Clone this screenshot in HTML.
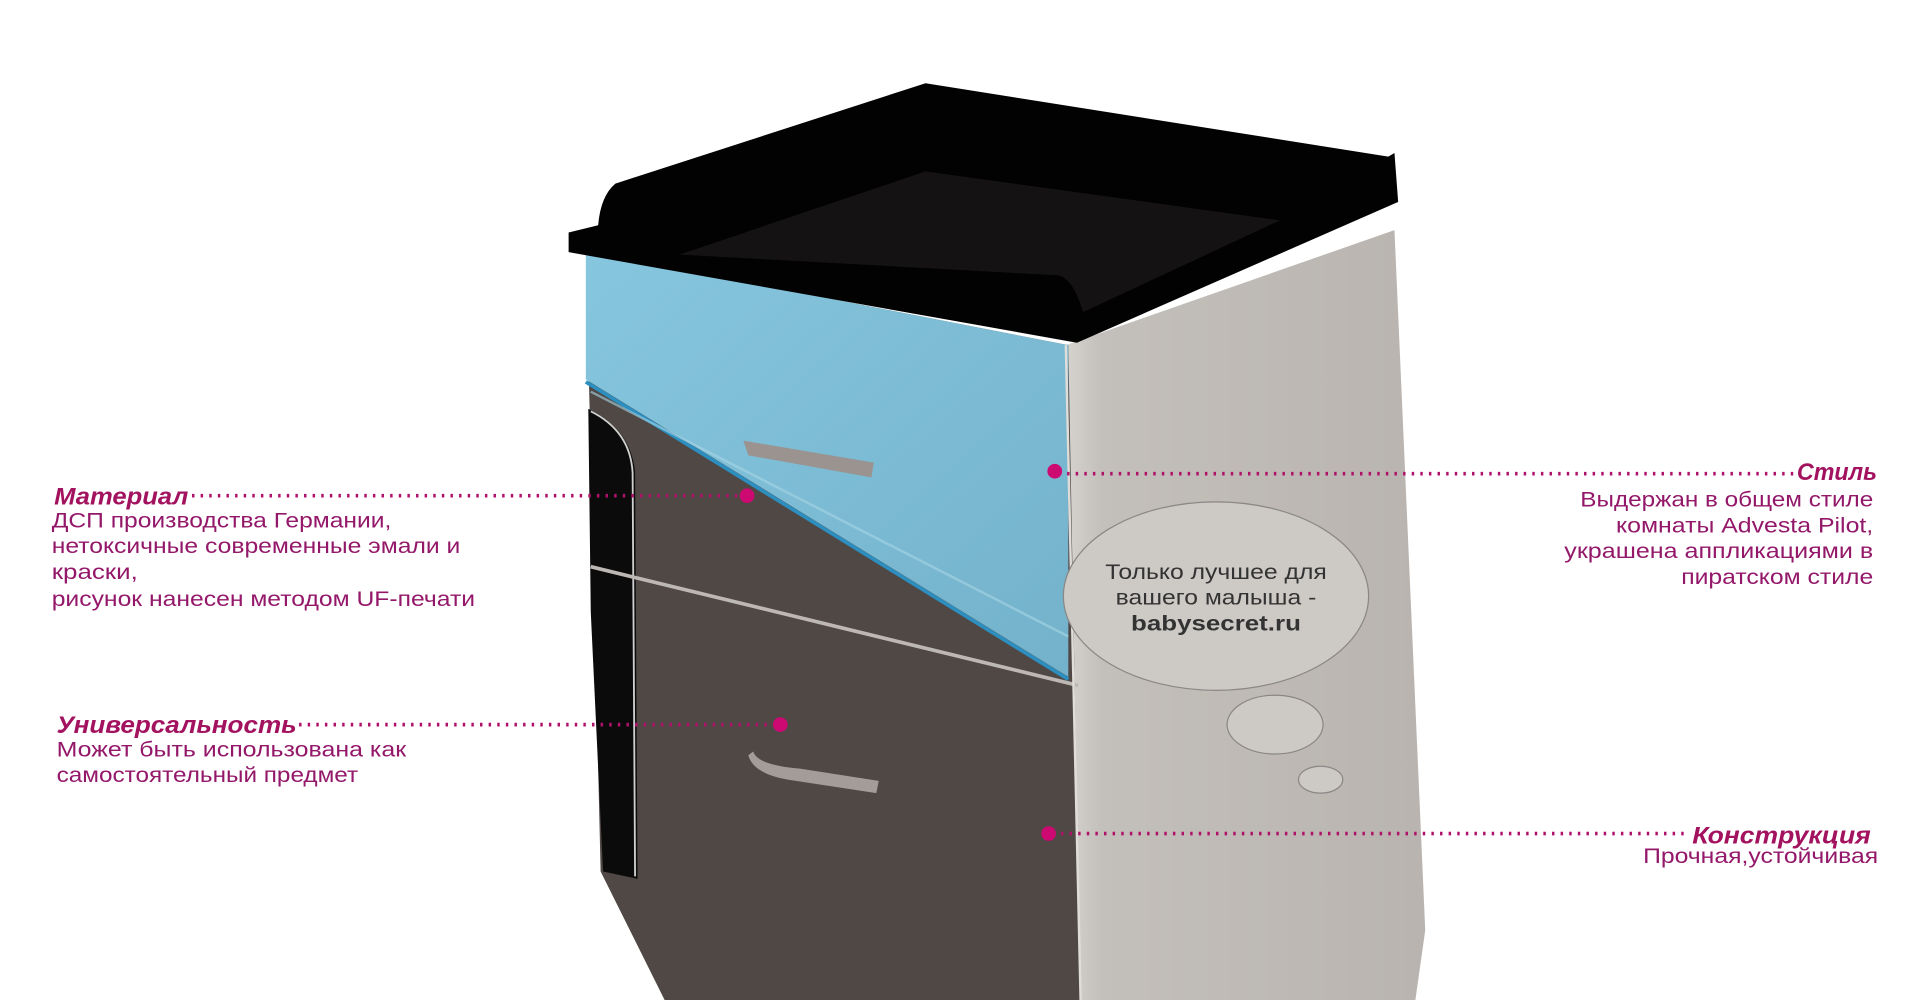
<!DOCTYPE html>
<html><head><meta charset="utf-8"><style>
html,body{margin:0;padding:0;background:#fff;width:1920px;height:1000px;overflow:hidden}
svg{display:block}
text{font-family:"Liberation Sans","DejaVu Sans",sans-serif}
</style></head><body>
<svg width="1920" height="1000" viewBox="0 0 1560 817" preserveAspectRatio="none" xmlns="http://www.w3.org/2000/svg">
<defs>
<linearGradient id="side" x1="0" x2="1" y1="0" y2="0"><stop offset="0" stop-color="#d6d3cf"/><stop offset="0.1" stop-color="#c3bfba"/><stop offset="1" stop-color="#b9b4af"/></linearGradient>
<linearGradient id="blue" x1="0" x2="1" y1="0" y2="1"><stop offset="0" stop-color="#86c6de"/><stop offset="1" stop-color="#74b2cb"/></linearGradient>
</defs>
<polygon points="866,282 1133,188 1158,760 1150,817 876,817" fill="url(#side)"/>
<polygon points="476,205 868,282 878,817 540,817 488,712" fill="#4f4845"/>
<polygon points="476,205 868,282 868,553 476,310" fill="url(#blue)"/>
<line x1="476" y1="312" x2="868" y2="555" stroke="#2c8fc0" stroke-width="3"/>
<line x1="480" y1="320" x2="868" y2="520" stroke="#a8d6e6" stroke-width="2" opacity="0.6"/>
<path d="M478,334 Q512,350 516,385 L518,718 L490,712 L480,500 Z" fill="#0c0b0b"/>
<path d="M480,336 Q512,352 514,386 L516,716" fill="none" stroke="#cfcfcf" stroke-width="1.5"/>
<line x1="480" y1="463" x2="876" y2="560" stroke="#bdb8b4" stroke-width="3"/>
<line x1="866" y1="282" x2="878" y2="817" stroke="#e0ddd9" stroke-width="2"/>
<path d="M604,360 L608,372 L708,390 L710,378 Z" fill="#9a9390"/>
<path d="M608,617 Q612,632 640,637 L712,648 L714,638 L650,628 Q615,625 612,614 Z" fill="#a39c98"/>
<path d="M462,190 L486,184 Q488,160 500,150 L752,68 L1128,128 L1133,125 L1136,165 L875,280 L462,206 Z" fill="#020202"/>
<path d="M552,208 L752,140 L1040,180 L880,255 Q872,228 860,225 Z" fill="#141212"/>
<ellipse cx="988" cy="487" rx="124" ry="77" fill="#cdcac6" stroke="#8a8785" stroke-width="1"/>
<ellipse cx="1036" cy="592" rx="39" ry="24" fill="#cdcac6" stroke="#8a8785" stroke-width="1"/>
<ellipse cx="1073" cy="637" rx="18" ry="11" fill="#cdcac6" stroke="#8a8785" stroke-width="1"/>
<g font-size="17" fill="#333" text-anchor="middle">
<text x="988" y="473" textLength="180" lengthAdjust="spacingAndGlyphs">Только лучшее для</text>
<text x="988" y="494" textLength="163" lengthAdjust="spacingAndGlyphs">вашего малыша -</text>
<text x="988" y="515" font-weight="bold" textLength="138" lengthAdjust="spacingAndGlyphs">babysecret.ru</text>
</g>
<g stroke="#b0126a" stroke-width="3" stroke-dasharray="2,5">
<line x1="156" y1="405" x2="605" y2="405"/>
<line x1="243" y1="592" x2="632" y2="592"/>
<line x1="860" y1="387" x2="1457" y2="387"/>
<line x1="855" y1="681" x2="1372" y2="681"/>
</g>
<g fill="#cc0a72">
<ellipse cx="607" cy="405" rx="6" ry="6"/>
<ellipse cx="634" cy="592" rx="6" ry="6"/>
<ellipse cx="857" cy="385" rx="6" ry="6"/>
<ellipse cx="852" cy="681" rx="6" ry="6"/>
</g>
<g fill="#a3125f" font-weight="bold" font-style="italic" font-size="20">
<text x="44" y="412" textLength="109" lengthAdjust="spacingAndGlyphs">Материал</text>
<text x="46" y="599" textLength="195" lengthAdjust="spacingAndGlyphs">Универсальность</text>
<text x="1460" y="392" textLength="65" lengthAdjust="spacingAndGlyphs">Стиль</text>
<text x="1375" y="689" textLength="145" lengthAdjust="spacingAndGlyphs">Конструкция</text>
</g>
<g fill="#94186a" font-size="17">
<text x="42" y="431" textLength="276" lengthAdjust="spacingAndGlyphs">ДСП производства Германии,</text>
<text x="42" y="452" textLength="332" lengthAdjust="spacingAndGlyphs">нетоксичные современные эмали и</text>
<text x="42" y="473" textLength="70" lengthAdjust="spacingAndGlyphs">краски,</text>
<text x="42" y="495" textLength="344" lengthAdjust="spacingAndGlyphs">рисунок нанесен методом UF-печати</text>
<text x="46" y="618" textLength="284" lengthAdjust="spacingAndGlyphs">Может быть использована как</text>
<text x="46" y="639" textLength="245" lengthAdjust="spacingAndGlyphs">самостоятельный предмет</text>
<text x="1284" y="414" textLength="238" lengthAdjust="spacingAndGlyphs">Выдержан в общем стиле</text>
<text x="1313" y="435" textLength="209" lengthAdjust="spacingAndGlyphs">комнаты Advesta Pilot,</text>
<text x="1271" y="456" textLength="251" lengthAdjust="spacingAndGlyphs">украшена аппликациями в</text>
<text x="1366" y="477" textLength="156" lengthAdjust="spacingAndGlyphs">пиратском стиле</text>
<text x="1335" y="705" textLength="191" lengthAdjust="spacingAndGlyphs">Прочная,устойчивая</text>
</g>
</svg>
</body></html>
